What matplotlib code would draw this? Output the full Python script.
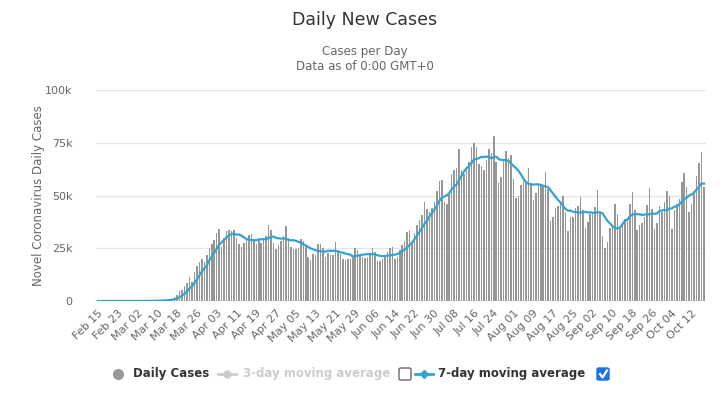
import matplotlib
matplotlib.use("Agg")
import matplotlib.pyplot as plt
import matplotlib.patches as mpatches
from matplotlib.lines import Line2D
import numpy as np
import pandas as pd

# ---- data: daily new cases (Feb 15 - Oct 17, 2020) ----
feb = [0, 0, 0, 0, 0, 0, 2, 0, 0, 18, 0, 6, 1, 1, 8]
mar = [7, 23, 20, 31, 68, 45, 140, 116, 65, 376, 322, 382, 516, 548, 772, 1133,
       1789, 2988, 4835, 5374, 7123, 8459, 11236, 8789, 13963, 16797, 18695,
       19979, 18360, 21595, 24998]
apr = [27103, 28819, 32425, 34023, 25623, 29970, 33331, 33866, 33075, 33752,
       30003, 27000, 25600, 27700, 28700, 31400, 31800, 29500, 26900, 28700,
       27700, 29400, 30700, 36000, 33600, 27300, 24500, 26500, 28600, 30700]
may = [35500, 29700, 25800, 24800, 24800, 24900, 29300, 28400, 26500, 20800,
       19500, 22100, 21800, 27200, 27000, 25300, 20700, 22800, 21700, 21600,
       28000, 24300, 22200, 20000, 19600, 19900, 19800, 21700, 25300, 24300, 21800]
jun = [21000, 20600, 21000, 21700, 25000, 23400, 19100, 18800, 19900, 21200,
       23300, 25300, 25400, 19800, 20800, 24100, 26700, 28400, 32800, 33600,
       27800, 32000, 36100, 38600, 40600, 47000, 43600, 42000, 44000, 47000]
jul = [52000, 57000, 57500, 47000, 46000, 51000, 60000, 62000, 63000, 72000,
       62000, 60000, 62000, 66000, 73000, 75000, 73000, 65000, 64000, 62000,
       67000, 72000, 70000, 78000, 66000, 56000, 59000, 67000, 71000, 68000, 69000]
aug = [58000, 49000, 50000, 55000, 57000, 57000, 63000, 56000, 48000, 51000,
       55000, 55000, 54000, 61000, 53000, 38000, 40000, 44000, 45000, 46000,
       50000, 42000, 33000, 40000, 40000, 44000, 45000, 49500, 43000, 34500, 37500]
sep = [41000, 42000, 44500, 52500, 42000, 31000, 25000, 28000, 34500, 35000,
       46000, 41000, 34000, 36500, 39000, 38500, 46000, 51500, 43000, 33500,
       36000, 37000, 40000, 45500, 53500, 43500, 34000, 37000, 45000, 42000]
oct_ = [47000, 52000, 50000, 34000, 43000, 46000, 48500, 56500, 60500, 54000,
        42000, 46000, 52000, 59300, 65400, 70800, 54000]

start_date = "2020-02-15"
y_ticks = [0, 25000, 50000, 75000, 100000]
y_ticklabels = ["0", "25k", "50k", "75k", "100k"]

daily = np.array(feb + mar + apr + may + jun + jul + aug + sep + oct_, dtype=float)
dates = pd.date_range(start_date, periods=len(daily), freq="D")
ma7 = pd.Series(daily).rolling(7, min_periods=1).mean().values

# ---- figure ----
W, H = 723, 396
fig = plt.figure(figsize=(W / 100, H / 100), dpi=100)
plt.rcParams['font.family'] = ['DejaVu Sans']

ax = fig.add_axes([96 / W, (H - 301) / H, 610 / W, 211 / H])
x = np.arange(len(daily))
ax.bar(x, daily, width=0.62, color="#969696", zorder=2)
ax.plot(x, ma7, color="#33a4d2", lw=1.6, zorder=3)

ax.set_xlim(-0.8, len(daily) - 0.2)
ax.set_ylim(0, 100000)
ax.set_yticks(y_ticks)
ax.set_yticklabels(y_ticklabels)
ax.grid(axis="y", color="#e6e6e6", lw=1, zorder=0)
ax.set_axisbelow(True)
for s in ax.spines.values():
    s.set_visible(False)
ax.tick_params(axis="y", length=0, pad=17, labelsize=8, labelcolor="#666666")

tick_idx = np.arange(0, len(daily), 8)
ax.set_xticks(tick_idx)
ax.set_xticklabels([dates[i].strftime("%b %d") for i in tick_idx],
                   rotation=45, ha="right", rotation_mode="anchor")
ax.tick_params(axis="x", length=0, pad=5, labelsize=8, labelcolor="#666666")

ax.set_ylabel("Novel Coronavirus Daily Cases", color="#666666", fontsize=8.5, labelpad=0)

# titles
fig.text(365 / W, 1 - 20 / H, "Daily New Cases", ha="center", va="center",
         fontsize=12.5, color="#333333")
fig.text(365 / W, 1 - 51 / H, "Cases per Day", ha="center", va="center",
         fontsize=8.5, color="#666666")
fig.text(365 / W, 1 - 67 / H, "Data as of 0:00 GMT+0", ha="center", va="center",
         fontsize=8.5, color="#666666")

# legend (drawn manually)
ly = 1 - 374 / H
fig.add_artist(Line2D([118 / W], [ly], marker="o", ms=7, color="#999999",
                      transform=fig.transFigure))
fig.text(133 / W, ly, "Daily Cases", ha="left", va="center", fontsize=8.5,
         fontweight="bold", color="#333333")
fig.add_artist(Line2D([218 / W, 236 / W], [ly, ly], color="#cccccc", lw=2,
                      transform=fig.transFigure))
fig.add_artist(Line2D([227 / W], [ly], marker="o", ms=5, color="#cccccc",
                      transform=fig.transFigure))
fig.text(243 / W, ly, "3-day moving average", ha="left", va="center", fontsize=8.5,
         fontweight="bold", color="#cccccc")
fig.add_artist(mpatches.FancyBboxPatch((399 / W, ly - 6 / H), 12 / W, 12 / H,
                                       boxstyle="round,pad=0,rounding_size=0.003",
                                       fc="white", ec="#666666", lw=1,
                                       transform=fig.transFigure))
fig.add_artist(Line2D([415 / W, 433 / W], [ly, ly], color="#33a4d2", lw=2,
                      transform=fig.transFigure))
fig.add_artist(Line2D([424 / W], [ly], marker="D", ms=4, color="#33a4d2",
                      transform=fig.transFigure))
fig.text(438 / W, ly, "7-day moving average", ha="left", va="center", fontsize=8.5,
         fontweight="bold", color="#333333")
fig.add_artist(mpatches.FancyBboxPatch((597 / W, ly - 6 / H), 12 / W, 12 / H,
                                       boxstyle="round,pad=0,rounding_size=0.003",
                                       fc="#1a73e8", ec="#1a73e8", lw=1,
                                       transform=fig.transFigure))
fig.add_artist(Line2D([600 / W, 602.5 / W, 607 / W], [ly, ly - 3.5 / H, ly + 3.5 / H],
                      color="white", lw=1.6, transform=fig.transFigure))

fig.savefig("out.png", dpi=100)
